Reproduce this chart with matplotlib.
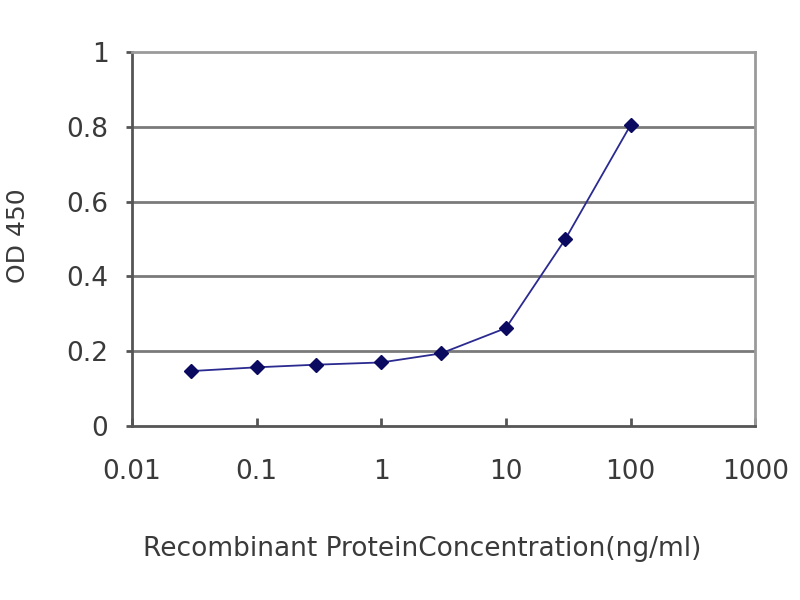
import matplotlib
matplotlib.use('Agg')
import matplotlib.pyplot as plt
import numpy as np

plt.rcParams['font.family'] = ['DejaVu Sans']

# concentration (ng/ml) and OD 450 readings
conc = [0.03, 0.1, 0.3, 1, 3, 10, 30, 100]
od450 = [0.147, 0.157, 0.164, 0.170, 0.194, 0.262, 0.500, 0.805]
xticks = [0.01, 0.1, 1, 10, 100, 1000]
xlabels = ['0.01', '0.1', '1', '10', '100', '1000']
yticks = [0, 0.2, 0.4, 0.6, 0.8, 1]
ylabels = ['0', '0.2', '0.4', '0.6', '0.8', '1']

fig = plt.figure(figsize=(8, 6), dpi=100)
ax = fig.add_axes([0.165, 0.29, 0.779, 0.623])
ax.set_xscale('log')
ax.set_xlim(0.01, 1000)
ax.set_ylim(0, 1)

for yv in yticks[1:-1]:
    ax.axhline(yv, color='#7a7a7a', lw=2, zorder=1)

ax.plot(conc, od450, color='#2a2a90', lw=1.3, marker='D', ms=7,
        mfc='#0a0a60', mec='#0a0a60', zorder=3)

ax.spines['left'].set_color('#555555')
ax.spines['bottom'].set_color('#555555')
ax.spines['left'].set_linewidth(2)
ax.spines['bottom'].set_linewidth(2)
ax.spines['top'].set_color('#9a9a9a')
ax.spines['right'].set_color('#9a9a9a')
ax.spines['top'].set_linewidth(2)
ax.spines['right'].set_linewidth(2)

ax.set_xticks(xticks)
ax.set_xticklabels(xlabels)
ax.xaxis.set_minor_locator(matplotlib.ticker.NullLocator())
ax.set_yticks(yticks)
ax.set_yticklabels(ylabels)
ax.tick_params(axis='x', direction='in', length=6, width=2, color='#555555',
               labelsize=19, labelcolor='#3a3a3a', pad=24)
ax.tick_params(axis='y', direction='out', length=4, width=2, color='#555555',
               labelsize=19, labelcolor='#3a3a3a', pad=13)

ax.set_xlabel('Recombinant ProteinConcentration(ng/ml)', fontsize=19,
              color='#3a3a3a')
ax.xaxis.set_label_coords(0.466, -0.295)
ax.set_ylabel('OD 450', fontsize=18, color='#3a3a3a')
ax.yaxis.set_label_coords(-0.164, 0.51)

plt.savefig('out.png')
plt.close()
